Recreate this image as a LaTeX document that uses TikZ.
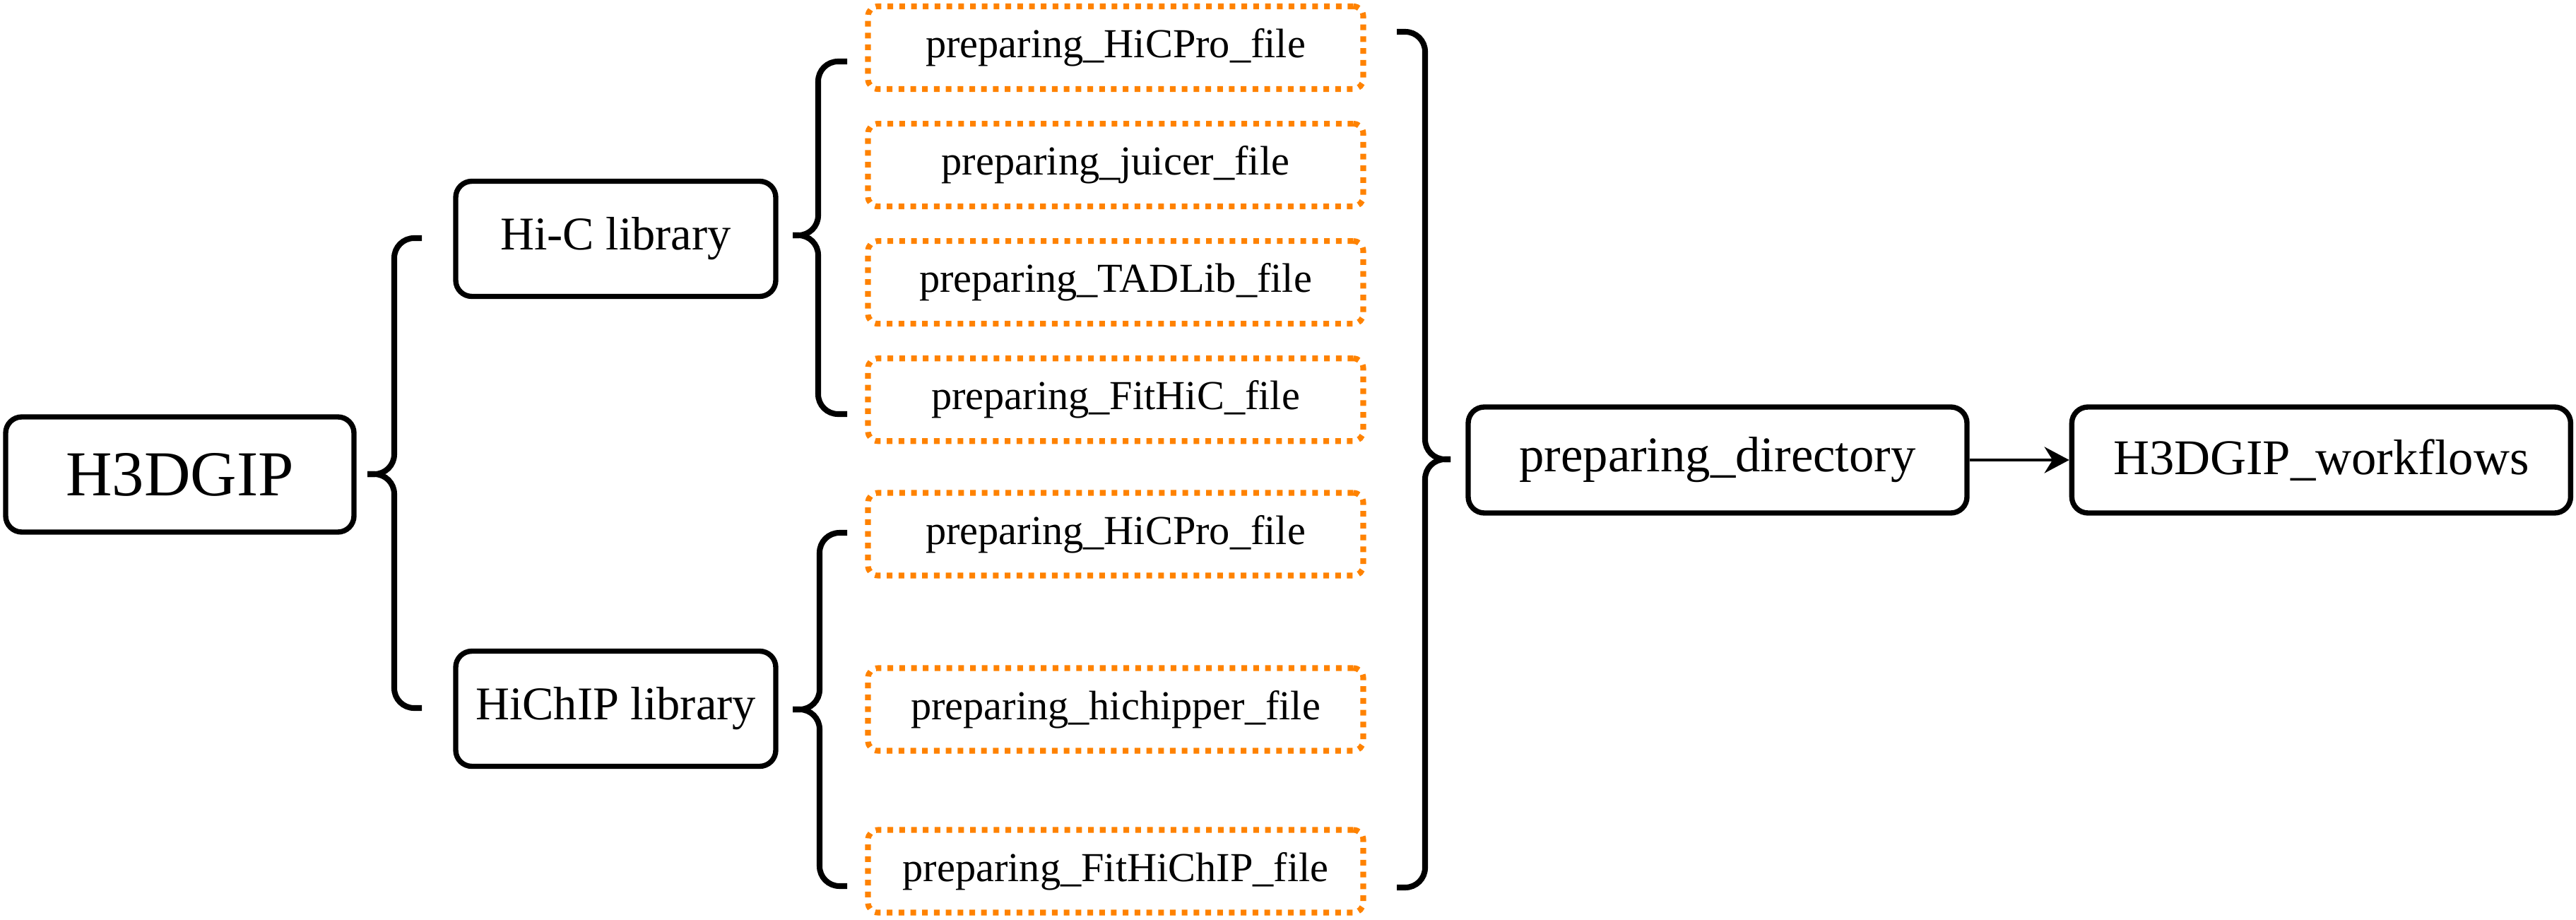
\documentclass[tikz,border=0pt]{standalone}
\usepackage{fontspec}
\setmainfont{Liberation Serif}
\usetikzlibrary{arrows.meta,positioning}
\definecolor{fileorange}{RGB}{255,130,0}

\begin{document}
\begin{tikzpicture}[
    box/.style={rectangle, draw, line width=2.1pt, rounded corners=6.5pt,
                minimum height=1.63cm, align=center, inner sep=0pt},
    filebox/.style={rectangle, draw=fileorange, line width=2.3pt,
                    dash pattern=on 0.08cm off 0.087cm, rounded corners=4pt,
                    minimum width=7.01cm, minimum height=1.17cm, inner sep=0pt,
                    font=\fontsize{16.6}{20}\selectfont},
    brace/.style={line width=2.3pt, rounded corners=8pt},
    arrow/.style={-{Stealth[length=0.35cm, width=0.37cm]}, line width=1.35pt}
  ]
  \useasboundingbox (0,0) rectangle (36.46,13.01);

  % Root and libraries
  \node[box, minimum width=4.93cm, font=\fontsize{25.8}{30}\selectfont] (root) at (2.545, 6.295) {H3DGIP};
  \node[box, minimum width=4.53cm, font=\fontsize{18.9}{22}\selectfont] (hic) at (8.715, 9.63) {Hi-C library};
  \node[box, minimum width=4.53cm, font=\fontsize{18.9}{22}\selectfont] (hichip) at (8.715, 2.98) {HiChIP library};

  % Hi-C files
  \node[filebox] (hic_pro) at (15.79, 12.335) {preparing\_HiCPro\_file};
  \node[filebox, below=0.41cm of hic_pro] (hic_juicer) {preparing\_juicer\_file};
  \node[filebox, below=0.41cm of hic_juicer] (hic_tadlib) {preparing\_TADLib\_file};
  \node[filebox, below=0.41cm of hic_tadlib] (hic_fithic) {preparing\_FitHiC\_file};

  % HiChIP files
  \node[filebox] (hichip_pro) at (15.79, 5.45) {preparing\_HiCPro\_file};
  \node[filebox] (hichip_hichipper) at (15.79, 2.97) {preparing\_hichipper\_file};
  \node[filebox] (hichip_fithichip) at (15.79, 0.68) {preparing\_FitHiChIP\_file};

  % Directory and workflows
  \node[box, minimum width=7.06cm, minimum height=1.5cm, font=\fontsize{20.1}{24}\selectfont] (dir) at (24.31, 6.50) {preparing\_directory};
  \node[box, minimum width=7.06cm, minimum height=1.5cm, font=\fontsize{20.1}{24}\selectfont, right=1.41cm of dir] (workflows) {H3DGIP\_workflows};

  % Braces
  \draw[brace] (5.97, 9.64) -| (5.58, 6.30) -- (5.20, 6.30);
  \draw[brace] (5.97, 2.99) -| (5.58, 6.30) -- (5.20, 6.30);

  \draw[brace] (11.99, 12.14) -| (11.58, 9.68) -- (11.22, 9.68);
  \draw[brace] (11.99, 7.15) -| (11.58, 9.68) -- (11.22, 9.68);

  \draw[brace] (11.99, 5.47) -| (11.60, 2.97) -- (11.22, 2.97);
  \draw[brace] (11.99, 0.47) -| (11.60, 2.97) -- (11.22, 2.97);

  \draw[brace] (19.77, 12.56) -| (20.17, 6.51) -- (20.53, 6.51);
  \draw[brace] (19.77, 0.45) -| (20.17, 6.51) -- (20.53, 6.51);

  % Flow
  \draw[arrow] (dir) -- (workflows);

\end{tikzpicture}
\end{document}
